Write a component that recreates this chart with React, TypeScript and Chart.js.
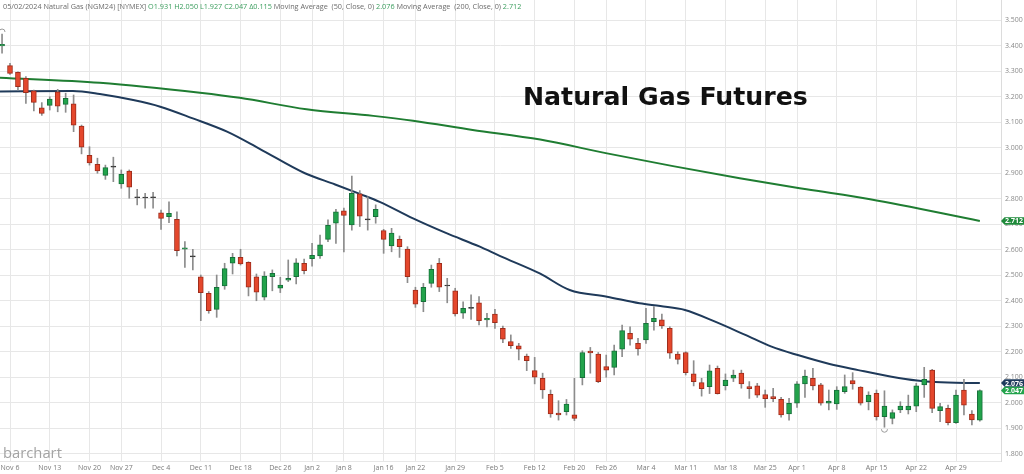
import React, { useEffect, useRef } from "react";
import { Chart, registerables } from "chart.js";

Chart.register(...registerables);

// ---------- data ----------
// index of the first candle (Nov 3, 2023); index 0 = Nov 6, 2023
const FIRST_INDEX = -1;

const OPEN = [
  3.398, 3.321, 3.295, 3.271, 3.222, 3.156, 3.165, 3.218, 3.169, 3.171, 3.084,
  2.969, 2.934, 2.891, 2.924, 2.857, 2.908, 2.804, 2.803, 2.803, 2.744,
  2.729, 2.718, 2.601, 2.572, 2.493, 2.428, 2.365, 2.457, 2.546, 2.569,
  2.550, 2.493, 2.413, 2.493, 2.448, 2.480, 2.493, 2.546, 2.564, 2.575,
  2.640, 2.703, 2.752, 2.696, 2.818, 2.717, 2.729, 2.674, 2.614, 2.640,
  2.602, 2.441, 2.395, 2.467, 2.546, 2.458, 2.438, 2.350, 2.370, 2.391,
  2.324, 2.347, 2.291, 2.239, 2.222, 2.182, 2.125, 2.095, 2.032, 1.959,
  1.964, 1.952, 2.097, 2.202, 2.190, 2.141, 2.138, 2.209, 2.271, 2.232,
  2.245, 2.317, 2.324, 2.291, 2.190, 2.196, 2.112, 2.078, 2.062, 2.134,
  2.066, 2.095, 2.115, 2.062, 2.065, 2.031, 2.023, 2.012, 1.955, 1.997,
  2.073, 2.095, 2.069, 1.997, 1.994, 2.042, 2.086, 2.060, 2.003, 2.036,
  1.944, 1.938, 1.971, 1.971, 1.986, 2.069, 2.127, 1.968, 1.977, 1.921,
  2.049, 1.955, 1.931,
];
const HIGH = [
  3.445, 3.330, 3.297, 3.278, 3.225, 3.176, 3.199, 3.228, 3.213, 3.206, 3.088,
  3.003, 2.958, 2.931, 2.962, 2.912, 2.912, 2.836, 2.820, 2.824, 2.755,
  2.787, 2.748, 2.631, 2.601, 2.500, 2.435, 2.500, 2.546, 2.585, 2.601,
  2.552, 2.504, 2.513, 2.520, 2.491, 2.559, 2.564, 2.562, 2.624, 2.657,
  2.716, 2.758, 2.762, 2.888, 2.831, 2.807, 2.775, 2.679, 2.683, 2.653,
  2.611, 2.452, 2.467, 2.539, 2.565, 2.487, 2.448, 2.395, 2.422, 2.415,
  2.350, 2.365, 2.300, 2.265, 2.232, 2.190, 2.177, 2.115, 2.049, 2.007,
  2.012, 2.095, 2.203, 2.216, 2.196, 2.186, 2.225, 2.304, 2.297, 2.252,
  2.369, 2.376, 2.347, 2.297, 2.199, 2.199, 2.164, 2.095, 2.147, 2.143,
  2.112, 2.127, 2.127, 2.082, 2.075, 2.049, 2.056, 2.020, 2.016, 2.082,
  2.127, 2.134, 2.075, 2.049, 2.062, 2.108, 2.117, 2.062, 2.042, 2.049,
  2.046, 1.971, 2.003, 2.029, 2.075, 2.138, 2.130, 1.997, 1.990, 2.049,
  2.091, 1.968, 2.050,
];
const LOW = [
  3.370, 3.287, 3.225, 3.173, 3.143, 3.126, 3.147, 3.140, 3.138, 3.062, 2.975,
  2.931, 2.899, 2.875, 2.866, 2.840, 2.801, 2.775, 2.762, 2.762, 2.679,
  2.705, 2.575, 2.530, 2.520, 2.321, 2.350, 2.334, 2.444, 2.504, 2.539,
  2.418, 2.399, 2.402, 2.438, 2.431, 2.474, 2.465, 2.504, 2.535, 2.565,
  2.631, 2.624, 2.591, 2.676, 2.690, 2.676, 2.703, 2.585, 2.591, 2.569,
  2.470, 2.373, 2.356, 2.452, 2.435, 2.391, 2.339, 2.330, 2.326, 2.304,
  2.296, 2.291, 2.235, 2.212, 2.167, 2.125, 2.073, 2.016, 1.942, 1.931,
  1.951, 1.929, 2.069, 2.115, 2.078, 2.099, 2.108, 2.180, 2.225, 2.186,
  2.232, 2.284, 2.291, 2.173, 2.151, 2.108, 2.065, 2.025, 2.035, 2.033,
  2.049, 2.082, 2.056, 2.016, 2.020, 1.981, 2.003, 1.942, 1.931, 1.981,
  2.020, 2.049, 1.990, 1.971, 1.973, 2.036, 2.052, 1.990, 1.971, 1.931,
  1.903, 1.916, 1.960, 1.955, 1.964, 2.020, 1.960, 1.925, 1.912, 1.918,
  1.951, 1.912, 1.927,
];
const CLOSE = [
  3.405, 3.291, 3.239, 3.215, 3.177, 3.134, 3.190, 3.162, 3.193, 3.088, 3.001,
  2.940, 2.908, 2.921, 2.923, 2.895, 2.844, 2.803, 2.802, 2.804, 2.722,
  2.742, 2.595, 2.607, 2.571, 2.431, 2.360, 2.452, 2.525, 2.569, 2.543,
  2.452, 2.433, 2.496, 2.507, 2.460, 2.487, 2.548, 2.517, 2.577, 2.618,
  2.695, 2.748, 2.734, 2.820, 2.731, 2.716, 2.758, 2.640, 2.664, 2.611,
  2.493, 2.386, 2.452, 2.522, 2.452, 2.457, 2.347, 2.369, 2.369, 2.321,
  2.330, 2.313, 2.248, 2.223, 2.209, 2.164, 2.099, 2.049, 1.955, 1.951,
  1.994, 1.938, 2.196, 2.194, 2.082, 2.127, 2.203, 2.282, 2.248, 2.210,
  2.310, 2.330, 2.300, 2.193, 2.169, 2.117, 2.082, 2.054, 2.124, 2.035,
  2.088, 2.108, 2.073, 2.054, 2.029, 2.015, 2.015, 1.951, 1.997, 2.073,
  2.104, 2.065, 1.997, 2.006, 2.049, 2.062, 2.073, 1.997, 2.029, 1.944,
  1.986, 1.960, 1.986, 1.986, 2.065, 2.091, 1.977, 1.984, 1.921, 2.029,
  1.990, 1.932, 2.047,
];

// 50-day moving average (dark blue), read at candle indices
const MA50_INDEX = [-1.3, 7.9, 11.3, 15.5, 18.9, 23, 27.3, 31.4, 37.1, 40.9, 44, 46.5, 50.7, 54.9, 59.1, 61.6, 66.7, 70.4, 75.1, 79.2, 81.8, 84.9, 88.7, 92.5, 95.8, 99.1, 103.1, 106.7, 110.9, 114.1, 116.4, 122];
const MA50_VALUE = [3.220, 3.222, 3.210, 3.186, 3.160, 3.114, 3.062, 2.995, 2.899, 2.855, 2.818, 2.787, 2.722, 2.664, 2.611, 2.575, 2.505, 2.441, 2.415, 2.389, 2.378, 2.363, 2.317, 2.265, 2.219, 2.186, 2.151, 2.127, 2.101, 2.086, 2.080, 2.076];

// 200-day moving average (green)
const MA200_INDEX = [-1.3, 11.3, 23.9, 28.9, 37.3, 45.7, 50.7, 58.2, 66.7, 75.1, 83.4, 91.8, 100.2, 108.2, 122];
const MA200_VALUE = [3.274, 3.254, 3.215, 3.195, 3.150, 3.124, 3.105, 3.069, 3.031, 2.977, 2.927, 2.879, 2.836, 2.797, 2.712];

const TICK_INDEX = [0, 5, 10, 14, 19, 24, 29, 34, 38, 42, 47, 51, 56, 61, 66, 71, 75, 80, 85, 90, 95, 99, 104, 109, 114, 119];
const TICK_LABELS = ["Nov 6", "Nov 13", "Nov 20", "Nov 27", "Dec 4", "Dec 11", "Dec 18", "Dec 26", "Jan 2", "Jan 8", "Jan 16", "Jan 22", "Jan 29", "Feb 5", "Feb 12", "Feb 20", "Feb 26", "Mar 4", "Mar 11", "Mar 18", "Mar 25", "Apr 1", "Apr 8", "Apr 15", "Apr 22", "Apr 29"];

const Y_TICKS = [1.8, 1.9, 2.0, 2.1, 2.2, 2.3, 2.4, 2.5, 2.6, 2.7, 2.8, 2.9, 3.0, 3.1, 3.2, 3.3, 3.4, 3.5];

const TITLE = "Natural Gas Futures";
const SYMBOL = "05/02/2024 Natural Gas (NGM24) [NYMEX]";
const LOGO = "barchart";

// ---------- styles ----------
const UP_FILL = "#22a34b";
const UP_EDGE = "#16703a";
const DOWN_FILL = "#e4472c";
const DOWN_EDGE = "#9e2d1c";
const DOJI = "#333333";
const WICK = "#8c8c8c";
const MA50_COLOR = "#1f3a5a";
const MA200_COLOR = "#1f7d32";
const GRID = "#e7e7e7";
const TEXT_GRAY = "#6b6b6b";
const VALUE_GREEN = "#3a9d5d";

export default function App() {
  const ref = useRef<HTMLCanvasElement | null>(null);

  useEffect(() => {
    const canvas = ref.current;
    if (!canvas) return;
    const n = OPEN.length;
    const xs = OPEN.map((_, k) => FIRST_INDEX + k);
    const kind = OPEN.map((o, k) =>
      Math.abs(CLOSE[k] - o) < 0.003 ? "doji" : CLOSE[k] > o ? "up" : "down"
    );
    const fill = kind.map((t) => (t === "up" ? UP_FILL : t === "down" ? DOWN_FILL : DOJI));
    const edge = kind.map((t) => (t === "up" ? UP_EDGE : t === "down" ? DOWN_EDGE : DOJI));

    const wickData = xs.map((x, k) => ({ x, y: [LOW[k], HIGH[k]] }));
    const bodyData = xs.map((x, k) => ({
      x,
      y: [Math.min(OPEN[k], CLOSE[k]), Math.max(OPEN[k], CLOSE[k])],
    }));
    const ma50 = MA50_INDEX.map((x, k) => ({ x, y: MA50_VALUE[k] }));
    const ma200 = MA200_INDEX.map((x, k) => ({ x, y: MA200_VALUE[k] }));

    const pxPerIdx = 946 / 119;
    const xMin = -10 / pxPerIdx;
    const xMax = xMin + 1001 / pxPerIdx;
    const yMax = 3.5 + 20 / 255;
    const yMin = 1.8 - 7.5 / 255;

    const overlay = {
      id: "overlay",
      afterDatasetsDraw(chart: any) {
        const ctx = chart.ctx;
        const xs_ = chart.scales.x;
        const ys_ = chart.scales.y;
        // highest-high and lowest-low markers
        let hi = 0, lo = 0;
        for (let k = 0; k < n; k++) {
          if (HIGH[k] > HIGH[hi]) hi = k;
          if (LOW[k] < LOW[lo]) lo = k;
        }
        ctx.save();
        ctx.strokeStyle = "#9a9a9a";
        ctx.lineWidth = 1;
        ctx.beginPath();
        ctx.arc(xs_.getPixelForValue(xs[hi]), ys_.getPixelForValue(HIGH[hi]) - 2, 3, Math.PI, 2 * Math.PI);
        ctx.stroke();
        ctx.beginPath();
        ctx.arc(xs_.getPixelForValue(xs[lo]), ys_.getPixelForValue(LOW[lo]) + 2, 3, 0, Math.PI);
        ctx.stroke();
        ctx.restore();
      },
      afterDraw(chart: any) {
        const ctx = chart.ctx;
        const ys_ = chart.scales.y;
        ctx.save();
        // header line
        const last = n - 1;
        const delta = CLOSE[last] - CLOSE[last - 1];
        const ma50Last = MA50_VALUE[MA50_VALUE.length - 1];
        const ma200Last = MA200_VALUE[MA200_VALUE.length - 1];
        const parts: [string, string][] = [
          [SYMBOL + " ", TEXT_GRAY],
          [
            `O${OPEN[last].toFixed(3)} H${HIGH[last].toFixed(3)} L${LOW[last].toFixed(3)} C${CLOSE[last].toFixed(3)} Δ${delta.toFixed(3)} `,
            VALUE_GREEN,
          ],
          ["Moving Average  (50, Close, 0) ", TEXT_GRAY],
          [ma50Last.toFixed(3) + " ", VALUE_GREEN],
          ["Moving Average  (200, Close, 0) ", TEXT_GRAY],
          [ma200Last.toFixed(3), VALUE_GREEN],
        ];
        ctx.font = '10px "Open Sans", sans-serif';
        const full = parts.map((p) => p[0]).join("");
        const fs = (10 * 520) / ctx.measureText(full).width;
        ctx.font = `${fs}px "Open Sans", sans-serif`;
        ctx.textBaseline = "middle";
        ctx.textAlign = "left";
        let cx = 3;
        for (const [t, c] of parts) {
          ctx.fillStyle = c;
          ctx.fillText(t, cx, 6.5);
          cx += ctx.measureText(t).width;
        }
        // big title
        ctx.font = 'bold 25px "DejaVu Sans", sans-serif';
        const tw = ctx.measureText(TITLE).width;
        const ts = (25 * 285) / tw;
        ctx.font = `bold ${ts}px "DejaVu Sans", sans-serif`;
        ctx.fillStyle = "#111111";
        ctx.textBaseline = "alphabetic";
        ctx.fillText(TITLE, 523, 105);
        // logo
        ctx.font = '15px "Open Sans", sans-serif';
        const lw = ctx.measureText(LOGO).width;
        ctx.font = `${(15 * 59) / lw}px "Open Sans", sans-serif`;
        ctx.fillStyle = "#a3a3a3";
        ctx.fillText(LOGO, 3, 458);
        // value badges
        const badge = (v: number, color: string) => {
          const y = ys_.getPixelForValue(v);
          const h = 7.5;
          const x0 = 1001;
          ctx.fillStyle = color;
          ctx.beginPath();
          ctx.moveTo(x0, y);
          ctx.lineTo(x0 + 3.5, y - h / 2);
          ctx.lineTo(1024, y - h / 2);
          ctx.lineTo(1024, y + h / 2);
          ctx.lineTo(x0 + 3.5, y + h / 2);
          ctx.closePath();
          ctx.fill();
          ctx.fillStyle = "#ffffff";
          ctx.font = 'bold 7px "Open Sans", sans-serif';
          ctx.textAlign = "center";
          ctx.textBaseline = "middle";
          ctx.fillText(v.toFixed(3), 1014, y + 0.5);
        };
        badge(ma200Last, "#1e8a3a");
        badge(ma50Last, "#1d3a5c");
        badge(CLOSE[last], "#22a34b");
        ctx.restore();
      },
    };

    const chart = new Chart(canvas, {
      type: "line",
      data: {
        datasets: [
          {
            type: "bar",
            label: "body",
            data: bodyData as any,
            backgroundColor: fill,
            borderColor: edge,
            borderWidth: 1,
            borderSkipped: false,
            barThickness: 5,
            minBarLength: 1,
            grouped: false,
            order: 0,
          } as any,
          {
            type: "bar",
            label: "wick",
            data: wickData as any,
            backgroundColor: WICK,
            borderWidth: 0,
            barThickness: 1,
            grouped: false,
            order: 1,
          } as any,
          {
            type: "line",
            label: "MA50",
            data: ma50,
            borderColor: MA50_COLOR,
            borderWidth: 2,
            pointRadius: 0,
            cubicInterpolationMode: "monotone",
            order: 2,
          } as any,
          {
            type: "line",
            label: "MA200",
            data: ma200,
            borderColor: MA200_COLOR,
            borderWidth: 2,
            pointRadius: 0,
            cubicInterpolationMode: "monotone",
            order: 3,
          } as any,
        ],
      },
      options: {
        animation: false,
        responsive: false,
        devicePixelRatio: 1,
        layout: { padding: 0 },
        plugins: { legend: { display: false }, tooltip: { enabled: false }, title: { display: false } },
        scales: {
          x: {
            type: "linear",
            min: xMin,
            max: xMax,
            offset: false,
            grid: { color: GRID, drawTicks: false, offset: false },
            border: { display: true, color: GRID },
            afterBuildTicks: (scale: any) => {
              scale.ticks = TICK_INDEX.map((v) => ({ value: v }));
            },
            afterFit: (scale: any) => {
              scale.height = 13;
              scale.paddingLeft = 0;
              scale.paddingRight = 0;
              scale.paddingTop = 0;
              scale.paddingBottom = 0;
            },
            ticks: {
              autoSkip: false,
              maxRotation: 0,
              padding: 3,
              color: "#7a7a7a",
              font: { size: 7, family: '"Open Sans", sans-serif' },
              callback: (v: any) => {
                const k = TICK_INDEX.indexOf(Number(v));
                return k >= 0 ? TICK_LABELS[k] : "";
              },
            },
          },
          y: {
            type: "linear",
            position: "right",
            min: yMin,
            max: yMax,
            grid: { color: GRID, drawTicks: false },
            border: { display: true, color: "#dcdcdc" },
            afterBuildTicks: (scale: any) => {
              scale.ticks = Y_TICKS.map((v) => ({ value: v }));
            },
            afterFit: (scale: any) => {
              scale.width = 23;
              scale.paddingLeft = 0;
              scale.paddingRight = 0;
              scale.paddingTop = 0;
              scale.paddingBottom = 0;
            },
            ticks: {
              padding: 4,
              color: "#8a8a8a",
              font: { size: 7, family: '"Open Sans", sans-serif' },
              callback: (v: any) => Number(v).toFixed(3),
            },
          },
        },
      },
      plugins: [overlay],
    } as any);

    return () => chart.destroy();
  }, []);

  return (
    <div style={{ position: "fixed", left: 0, top: 0, width: 1024, height: 474, background: "#ffffff" }}>
      <canvas ref={ref} width={1024} height={474} style={{ width: 1024, height: 474, display: "block" }} />
    </div>
  );
}
